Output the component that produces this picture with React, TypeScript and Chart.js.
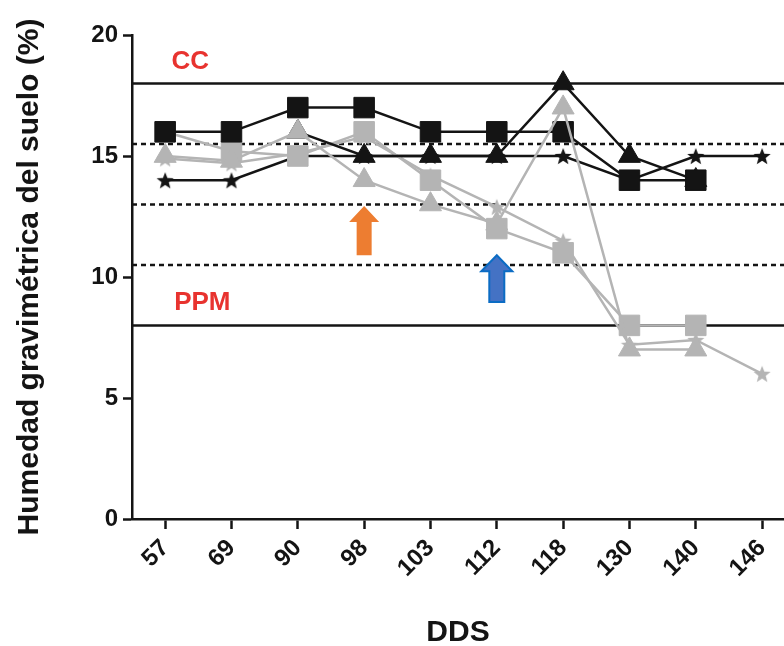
import React, { useEffect, useRef } from 'react';
import { Chart, registerables } from 'chart.js';

Chart.register(...registerables);

const categories = ['57', '69', '90', '98', '103', '112', '118', '130', '140', '146'];
const blackSquares = [16, 16, 17, 17, 16, 16, 16, 14, 14, null];
const blackTriangles = [null, null, 16, 15, 15, 15, 18, 15, 14, null];
const blackStars = [14, 14, 15, 15, 15, 15, 15, 14, 15, 15];
const graySquares = [16, 15.2, 15, 16, 14, 12, 11, 8, 8, null];
const grayTriangles = [15, 14.8, 16, 14, 13, 12.2, 17, 7, 7, null];
const grayStars = [14.9, 14.7, 15.1, 15.8, 14.2, 12.9, 11.5, 7.2, 7.4, 6];
const yTicks = [0, 5, 10, 15, 20];
const solidRefs = [18, 8];
const dashedRefs = [15.5, 13, 10.5];
const refLabels = ['CC', 'PPM'];
const arrowCats = [3, 5];
const arrowTips = [12.93, 10.9];
const arrowBases = [10.9, 8.97];

const FONT = "'Liberation Sans', Arial, Helvetica, sans-serif";
const BLACK = '#141414';
const GRAY = '#b4b4b4';

function makeStar(color: string, R: number, r: number) {
  const size = Math.ceil(R * 2) + 2;
  const c = document.createElement('canvas');
  c.width = size;
  c.height = size;
  const ctx = c.getContext('2d')!;
  ctx.fillStyle = color;
  ctx.beginPath();
  const cx = size / 2;
  const cy = size / 2 + R * 0.1;
  for (let i = 0; i < 10; i++) {
    const rad = i % 2 === 0 ? R : r;
    const a = -Math.PI / 2 + (i * Math.PI) / 5;
    ctx.lineTo(cx + rad * Math.cos(a), cy + rad * Math.sin(a));
  }
  ctx.closePath();
  ctx.fill();
  return c;
}

function toPoints(vals: (number | null)[]) {
  const out: { x: number; y: number }[] = [];
  vals.forEach((v, i) => {
    if (v !== null) out.push({ x: i, y: v });
  });
  return out;
}

const refPlugin = {
  id: 'refs',
  beforeDatasetsDraw(chart: any) {
    const { ctx, chartArea, scales } = chart;
    const y = scales.y;
    ctx.save();
    ctx.strokeStyle = BLACK;
    ctx.lineWidth = 2.5;
    solidRefs.forEach((v) => {
      const py = y.getPixelForValue(v);
      ctx.beginPath();
      ctx.moveTo(chartArea.left, py);
      ctx.lineTo(chartArea.right, py);
      ctx.stroke();
    });
    ctx.setLineDash([5, 4]);
    dashedRefs.forEach((v) => {
      const py = y.getPixelForValue(v);
      ctx.beginPath();
      ctx.moveTo(chartArea.left, py);
      ctx.lineTo(chartArea.right, py);
      ctx.stroke();
    });
    ctx.restore();
  },
  afterDatasetsDraw(chart: any) {
    const { ctx, scales } = chart;
    const x = scales.x;
    const y = scales.y;
    ctx.save();
    ctx.fillStyle = '#e8332f';
    ctx.font = `bold 26px ${FONT}`;
    ctx.textAlign = 'center';
    ctx.textBaseline = 'middle';
    ctx.fillText(refLabels[0], x.getPixelForValue(0.38), y.getPixelForValue(18.9));
    ctx.fillText(refLabels[1], x.getPixelForValue(0.56), y.getPixelForValue(8.95));

    const styles = [
      { fill: '#ed7d31', stroke: null as string | null, shaft: 15, head: 30, headH: 16 },
      { fill: '#4472c4', stroke: '#0b6cc4', shaft: 15, head: 31, headH: 16 },
    ];
    arrowCats.forEach((c, i) => {
      const cx = x.getPixelForValue(c);
      const tip = y.getPixelForValue(arrowTips[i]);
      const base = y.getPixelForValue(arrowBases[i]);
      const s = styles[i];
      ctx.beginPath();
      ctx.moveTo(cx, tip);
      ctx.lineTo(cx + s.head / 2, tip + s.headH);
      ctx.lineTo(cx + s.shaft / 2, tip + s.headH);
      ctx.lineTo(cx + s.shaft / 2, base);
      ctx.lineTo(cx - s.shaft / 2, base);
      ctx.lineTo(cx - s.shaft / 2, tip + s.headH);
      ctx.lineTo(cx - s.head / 2, tip + s.headH);
      ctx.closePath();
      ctx.fillStyle = s.fill;
      ctx.fill();
      if (s.stroke) {
        ctx.strokeStyle = s.stroke;
        ctx.lineWidth = 2;
        ctx.stroke();
      }
    });
    ctx.restore();
  },
};

export default function App() {
  const ref = useRef<HTMLCanvasElement | null>(null);

  useEffect(() => {
    document.body.style.margin = '0';
    const canvas = ref.current!;
    const blackStar = makeStar(BLACK, 9, 3.8);
    const grayStar = makeStar(GRAY, 9, 3.8);

    const common = { borderWidth: 2.5, pointBorderWidth: 1, tension: 0 };
    const chart = new Chart(canvas, {
      type: 'line',
      data: {
        datasets: [
          {
            label: 'gray triangles', data: toPoints(grayTriangles), order: 1,
            borderColor: GRAY, backgroundColor: GRAY, pointBackgroundColor: GRAY, pointBorderColor: GRAY,
            pointStyle: 'triangle', pointRadius: 12.7, ...common,
          },
          {
            label: 'black squares', data: toPoints(blackSquares), order: 2,
            borderColor: BLACK, backgroundColor: BLACK, pointBackgroundColor: BLACK, pointBorderColor: BLACK,
            pointStyle: 'rect', pointRadius: 14.5, ...common,
          },
          {
            label: 'black triangles', data: toPoints(blackTriangles), order: 3,
            borderColor: BLACK, backgroundColor: BLACK, pointBackgroundColor: BLACK, pointBorderColor: BLACK,
            pointStyle: 'triangle', pointRadius: 12.7, ...common,
          },
          {
            label: 'gray squares', data: toPoints(graySquares), order: 4,
            borderColor: GRAY, backgroundColor: GRAY, pointBackgroundColor: GRAY, pointBorderColor: GRAY,
            pointStyle: 'rect', pointRadius: 14.5, ...common,
          },
          {
            label: 'black stars', data: toPoints(blackStars), order: 5,
            borderColor: BLACK, backgroundColor: BLACK,
            pointStyle: blackStar as any, pointRadius: 9, ...common,
          },
          {
            label: 'gray stars', data: toPoints(grayStars), order: 6,
            borderColor: GRAY, backgroundColor: GRAY,
            pointStyle: grayStar as any, pointRadius: 9, ...common,
          },
        ],
      },
      options: {
        responsive: false,
        animation: false,
        layout: { autoPadding: false, padding: { top: 35, left: 0, right: 0, bottom: 0 } },
        plugins: { legend: { display: false }, tooltip: { enabled: false } },
        scales: {
          x: {
            type: 'linear',
            min: -0.5,
            max: 9.33,
            afterBuildTicks: (axis: any) => {
              axis.ticks = categories.map((_, i) => ({ value: i }));
            },
            afterFit: (axis: any) => {
              axis.height = 127;
              axis.paddingLeft = 0;
              axis.paddingRight = 0;
            },
            ticks: {
              autoSkip: false,
              maxRotation: 45,
              minRotation: 45,
              padding: 5,
              color: BLACK,
              font: { family: FONT, size: 24, weight: 'bold' },
              callback: (v: any) => categories[v] ?? '',
            },
            grid: { drawOnChartArea: false, drawTicks: true, tickLength: 10, tickWidth: 2.5, tickColor: BLACK },
            border: { display: true, color: BLACK, width: 2.5 },
            title: {
              display: true,
              text: 'DDS',
              color: BLACK,
              font: { family: FONT, size: 30, weight: 'bold' },
              padding: { top: 0, bottom: -5 },
            },
          },
          y: {
            min: 0,
            max: 20,
            afterBuildTicks: (axis: any) => {
              axis.ticks = yTicks.map((v) => ({ value: v }));
            },
            afterFit: (axis: any) => {
              axis.width = 132;
            },
            ticks: {
              padding: 5,
              color: BLACK,
              font: { family: FONT, size: 24, weight: 'bold' },
            },
            grid: { drawOnChartArea: false, drawTicks: true, tickLength: 9, tickWidth: 2.5, tickColor: BLACK },
            border: { display: true, color: BLACK, width: 2.5 },
            title: {
              display: true,
              text: 'Humedad gravimétrica del suelo (%)',
              color: BLACK,
              font: { family: FONT, size: 30, weight: 'bold' },
              padding: { top: 12, bottom: 0 },
            },
          },
        },
      } as any,
      plugins: [refPlugin],
    });
    return () => chart.destroy();
  }, []);

  return (
    <div style={{ width: 784, height: 646, background: '#fff' }}>
      <canvas ref={ref} width={784} height={646} style={{ display: 'block' }} />
    </div>
  );
}
